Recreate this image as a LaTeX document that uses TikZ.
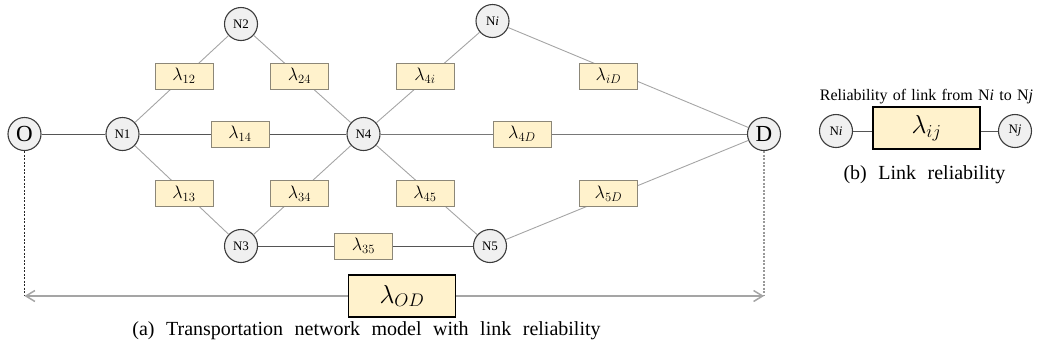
\RequirePackage{fix-cm}
\documentclass[tikz,border=0pt]{standalone}
\usepackage{fontspec}
\setmainfont{Liberation Serif}
\usetikzlibrary{arrows.meta}
\definecolor{boxfill}{RGB}{255,242,204}
\definecolor{boxline}{RGB}{140,135,120}
\definecolor{nodefill}{RGB}{240,240,240}
\definecolor{nodeline}{RGB}{60,60,60}
\definecolor{darkl}{RGB}{85,85,85}
\definecolor{midl}{RGB}{120,120,120}
\definecolor{lightl}{RGB}{165,165,165}
\newcommand\capsp{\spaceskip 11.5pt\relax}
\newcommand\relsp{\spaceskip 5.3pt\relax}
\begin{document}
\begin{tikzpicture}[x=1pt,y=-1pt,
  nd/.style={circle,draw=nodeline,fill=nodefill,line width=1.1pt,minimum size=33pt,inner sep=0pt,font=\fontsize{13}{13}\selectfont},
  big/.style={nd,font=\fontsize{23}{23}\selectfont},
  lam/.style={draw=boxline,fill=boxfill,line width=0.8pt,minimum width=58pt,minimum height=26pt,inner sep=0pt,font=\fontsize{18}{18}\selectfont},
  bigl/.style={draw=black,fill=boxfill,line width=1.4pt,minimum width=107pt,minimum height=42pt,inner sep=0pt,font=\fontsize{26}{26}\selectfont},
  capt/.style={font=\fontsize{20}{20}\selectfont\capsp},
  dk/.style={draw=darkl,line width=0.9pt},
  md/.style={draw=midl,line width=0.9pt},
  lt/.style={draw=lightl,line width=0.9pt},
]
\useasboundingbox (0,0) rectangle (1038,349);
% nodes
\node[big] (O) at (24.5,134) {O};
\node[nd] (N1) at (122.5,134) {N1};
\node[nd] (N2) at (241,24) {N2};
\node[nd] (N3) at (241,246) {N3};
\node[nd] (N4) at (363.5,134) {N4};
\node[nd] (Ni) at (492.5,21) {N\textit{i}};
\node[nd] (N5) at (490,246) {N5};
\node[big] (D) at (764,134) {D};
% links
\draw[dk] (O) -- (N1);
\draw[dk] (N1) -- (N4);
\draw[dk] (N3) -- (N5);
\draw[md] (N4) -- (D);
\draw[lt] (N1) -- (N2);
\draw[lt] (N2) -- (N4);
\draw[lt] (N1) -- (N3);
\draw[lt] (N3) -- (N4);
\draw[lt] (N4) -- (Ni);
\draw[lt] (Ni) -- (D);
\draw[lt] (N4) -- (N5);
\draw[lt] (N5) -- (D);
% reliability boxes
\node[lam] (l12) at (184,76) {$\lambda_{12}$};
\node[lam] (l24) at (299.5,76) {$\lambda_{24}$};
\node[lam] (l4i) at (425,76) {$\lambda_{4i}$};
\node[lam] (liD) at (608.5,76) {$\lambda_{iD}$};
\node[lam] (l14) at (240,134) {$\lambda_{14}$};
\node[lam] (l4D) at (522,134) {$\lambda_{4D}$};
\node[lam] (l13) at (184,193.5) {$\lambda_{13}$};
\node[lam] (l34) at (299.5,193.5) {$\lambda_{34}$};
\node[lam] (l45) at (425,193.5) {$\lambda_{45}$};
\node[lam] (l5D) at (608.5,193.5) {$\lambda_{5D}$};
\node[lam] (l35) at (363.5,246) {$\lambda_{35}$};
% O-D link
\coordinate (aL) at (24.5,296);
\coordinate (aR) at (764,296);
\draw[black!85,line width=0.8pt,dash pattern=on 2pt off 1.5pt] (O) -- (aL);
\draw[gray!80,line width=1.1pt,dash pattern=on 2pt off 1.5pt] (D) -- (aR);
\draw[draw=lightl,line width=1.5pt,{Straight Barb[length=9pt,width=11pt]}-{Straight Barb[length=9pt,width=11pt]}] (aL) -- (aR);
\node[bigl] (lOD) at (402,296) {$\lambda_{OD}$};
\node[capt] (capA) at (366.5,331) {(a) Transportation network model with link reliability};
% (b)
\node[font=\fontsize{16}{16}\selectfont\relsp] (relt) at (926.5,97) {Reliability of link from N\textit{i} to N\textit{j}};
\node[nd] (bNi) at (836,131) {N\textit{i}};
\node[nd] (bNj) at (1015,131) {N\textit{j}};
\node[bigl,line width=1.1pt] (bL) at (926.5,128) {$\lambda_{ij}$};
\draw[dk] (bNi) -- (bNi -| bL.west);
\draw[dk] (bNj) -- (bNj -| bL.east);
\node[capt] (capB) at (924.5,175) {(b) Link reliability};
\end{tikzpicture}
\end{document}
